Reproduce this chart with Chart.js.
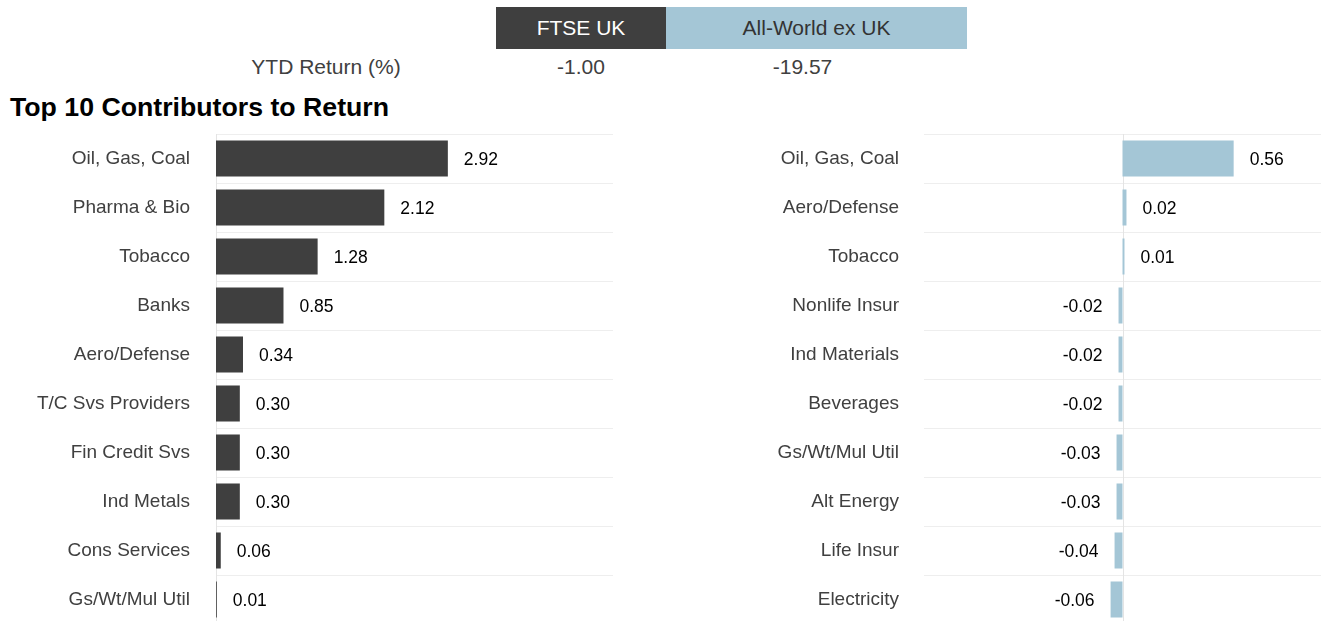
<!DOCTYPE html>
<html>
<head>
<meta charset="utf-8">
<script src="https://cdn.jsdelivr.net/npm/chart.js@4.4.1/dist/chart.umd.min.js"></script>
<style>
  html, body { margin: 0; padding: 0; background: #fff; overflow: hidden; width: 1322px; height: 621px; }
  body { position: relative; font-family: "Liberation Sans", Arial, sans-serif; }
  .box { position: absolute; top: 7px; height: 42px; line-height: 42px; text-align: center; font-size: 21px; }
  #boxA { left: 496px; width: 170px; background: #3f3f3f; color: #ffffff; }
  #boxB { left: 666px; width: 301px; background: #a4c6d6; color: #333333; }
  .row { position: absolute; top: 55px; height: 24px; line-height: 24px; font-size: 21px; color: #404040; text-align: center; }
  #title { position: absolute; left: 10px; top: 91px; font-size: 26.7px; line-height: 32px; font-weight: bold; color: #000; white-space: nowrap; }
  canvas { position: absolute; top: 130px; }
  #cL { left: 0px; }
  #cR { left: 700px; }
</style>
</head>
<body>
<div class="box" id="boxA"></div>
<div class="box" id="boxB"></div>
<div class="row" id="rowLabel" style="left:226px;width:200px;"></div>
<div class="row" id="rowA" style="left:496px;width:170px;"></div>
<div class="row" id="rowB" style="left:720px;width:165px;"></div>
<div id="title">Top 10 Contributors to Return</div>
<canvas id="cL" width="640" height="498"></canvas>
<canvas id="cR" width="622" height="498"></canvas>
<script>
// ---- data ----
const headerSeries = ["FTSE UK", "All-World ex UK"];
const headerRowLabel = "YTD Return (%)";
const headerValues = ["-1.00", "-19.57"];

const leftCategories = ["Oil, Gas, Coal", "Pharma & Bio", "Tobacco", "Banks", "Aero/Defense",
  "T/C Svs Providers", "Fin Credit Svs", "Ind Metals", "Cons Services", "Gs/Wt/Mul Util"];
const leftValues = [2.92, 2.12, 1.28, 0.85, 0.34, 0.30, 0.30, 0.30, 0.06, 0.01];

const rightCategories = ["Oil, Gas, Coal", "Aero/Defense", "Tobacco", "Nonlife Insur", "Ind Materials",
  "Beverages", "Gs/Wt/Mul Util", "Alt Energy", "Life Insur", "Electricity"];
const rightValues = [0.56, 0.02, 0.01, -0.02, -0.02, -0.02, -0.03, -0.03, -0.04, -0.06];

// ---- header ----
document.getElementById('boxA').textContent = headerSeries[0];
document.getElementById('boxB').textContent = headerSeries[1];
document.getElementById('rowLabel').textContent = headerRowLabel;
document.getElementById('rowA').textContent = headerValues[0];
document.getElementById('rowB').textContent = headerValues[1];

const FONT = '"Liberation Sans", Arial, sans-serif';

const zeroLine = {
  id: 'zeroLine',
  beforeDatasetsDraw(chart) {
    const {ctx, chartArea} = chart;
    const x = Math.round(chart.scales.x.getPixelForValue(0)) + 0.5;
    ctx.save();
    ctx.strokeStyle = '#e4e4e4';
    ctx.lineWidth = 1;
    ctx.beginPath();
    ctx.moveTo(x, chartArea.top);
    ctx.lineTo(x, chartArea.bottom);
    ctx.stroke();
    ctx.restore();
  }
};

const valueLabels = {
  id: 'valueLabels',
  afterDatasetsDraw(chart) {
    const {ctx} = chart;
    const meta = chart.getDatasetMeta(0);
    const data = chart.data.datasets[0].data;
    ctx.save();
    ctx.font = '17.5px ' + FONT;
    ctx.fillStyle = '#000';
    ctx.textBaseline = 'middle';
    meta.data.forEach((bar, i) => {
      const v = data[i];
      const txt = v.toFixed(2);
      if (v >= 0) {
        ctx.textAlign = 'left';
        ctx.fillText(txt, bar.x + 16, bar.y + 2);
      } else {
        ctx.textAlign = 'right';
        ctx.fillText(txt, bar.x - 16, bar.y + 2);
      }
    });
    ctx.restore();
  }
};

function makeChart(id, cats, vals, color, min, max, axisWidth, tickPad, padRight) {
  return new Chart(document.getElementById(id), {
    type: 'bar',
    data: {
      labels: cats,
      datasets: [{
        data: vals,
        backgroundColor: color,
        borderWidth: 0,
        barPercentage: 0.735,
        categoryPercentage: 1.0
      }]
    },
    options: {
      indexAxis: 'y',
      responsive: false,
      animation: false,
      devicePixelRatio: 1,
      layout: { padding: { top: 4, bottom: 4, left: 0, right: padRight } },
      plugins: { legend: { display: false }, tooltip: { enabled: false } },
      scales: {
        x: { display: false, min: min, max: max },
        y: {
          afterFit(scale) { scale.width = axisWidth; scale.paddingTop = 0; scale.paddingBottom = 0; },
          border: { display: false },
          grid: { color: '#eeeeee', lineWidth: 1, drawTicks: false, offset: true },
          ticks: {
            padding: tickPad,
            color: '#404040',
            font: { family: FONT, size: 19 }
          }
        }
      }
    },
    plugins: [zeroLine, valueLabels]
  });
}

makeChart('cL', leftCategories, leftValues, '#3f3f3f', 0, 5, 216, 26, 27);
makeChart('cR', rightCategories, rightValues, '#a4c6d6', -1, 1, 224, 25, 1);
</script>
</body>
</html>
